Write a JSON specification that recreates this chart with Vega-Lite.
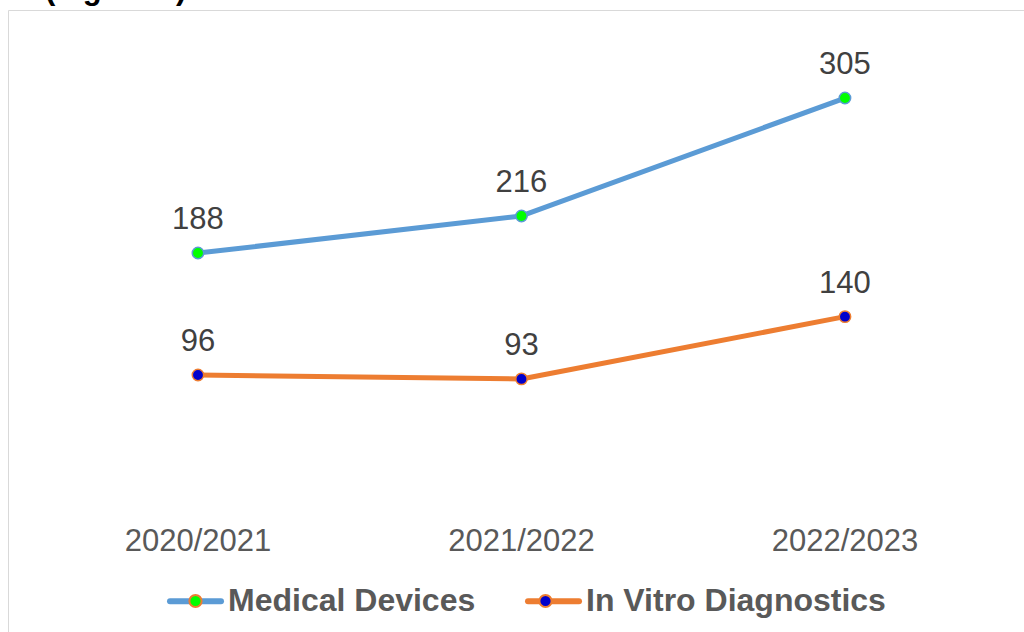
{
  "$schema": "https://vega.github.io/schema/vega-lite/v6.json",
  "autosize": {"type": "none"},
  "width": 1030,
  "height": 640,
  "padding": {"left": 8, "top": 10, "right": -14, "bottom": -18},
  "background": "white",
  "config": {"view": {"stroke": "#d9d9d9", "strokeWidth": 1}, "font": "Liberation Sans"},
  "title": {"text": "(Figure 1)", "anchor": "start", "dx": 37, "dy": 20, "fontSize": 31, "fontWeight": "bold", "color": "#000000", "baseline": "alphabetic", "offset": 0, "font": "Liberation Sans"},
  "datasets": {
    "main": [
      {"period": "2020/2021", "series": "Medical Devices", "value": 188},
      {"period": "2021/2022", "series": "Medical Devices", "value": 216},
      {"period": "2022/2023", "series": "Medical Devices", "value": 305},
      {"period": "2020/2021", "series": "In Vitro Diagnostics", "value": 96},
      {"period": "2021/2022", "series": "In Vitro Diagnostics", "value": 93},
      {"period": "2022/2023", "series": "In Vitro Diagnostics", "value": 140}
    ]
  },
  "encoding": {
    "x": {"field": "period", "type": "nominal", "scale": {"type": "point", "padding": 0.592, "align": 0.496}, "axis": null},
    "y": {"field": "value", "type": "quantitative", "scale": {"domain": [-111.6, 371.45], "nice": false, "zero": false}, "axis": null}
  },
  "layer": [
    {
      "data": {"name": "main"},
      "mark": {"type": "line", "strokeWidth": 5, "strokeCap": "round", "strokeJoin": "round"},
      "encoding": {
        "stroke": {
          "field": "series", "type": "nominal",
          "scale": {"domain": ["Medical Devices", "In Vitro Diagnostics"], "range": ["#5b9bd5", "#ed7d31"]},
          "legend": {
            "orient": "none", "legendX": 159, "legendY": 562.5, "direction": "horizontal", "title": null,
            "padding": 0, "symbolType": "stroke", "symbolSize": 2601, "symbolStrokeWidth": 6,
            "labelFont": "Liberation Sans", "labelFontSize": 32, "labelFontWeight": "bold", "labelColor": "#595959",
            "labelOffset": 4, "columnPadding": 40, "labelLimit": 500,
            "encode": {"symbols": {"update": {"strokeCap": {"value": "round"}}}}
          }
        }
      }
    },
    {
      "data": {"name": "main"},
      "mark": {"type": "point", "filled": true, "size": 130, "strokeWidth": 1.5, "opacity": 1},
      "encoding": {
        "fill": {
          "field": "series", "type": "nominal", "sort": ["Medical Devices", "In Vitro Diagnostics"],
          "scale": {"range": ["#00ff00", "#0000cc"]},
          "legend": {
            "orient": "none", "legendX": 171.5, "legendY": 575, "direction": "horizontal", "title": null,
            "padding": 0, "symbolType": "circle", "symbolSize": 150, "symbolStrokeWidth": 2, "symbolOpacity": 1,
            "labelFont": "Liberation Sans", "labelFontSize": 32, "labelFontWeight": "bold", "labelColor": "#595959",
            "labelOpacity": 0, "labelOffset": 30, "columnPadding": 40, "labelLimit": 500,
            "encode": {"symbols": {"update": {"stroke": {"signal": "datum.value === 'Medical Devices' ? '#5b9bd5' : '#ed7d31'"}}}}
          }
        },
        "stroke": {"condition": {"test": "datum.series === 'Medical Devices'", "value": "#5b9bd5"}, "value": "#ed7d31"}
      }
    },
    {
      "data": {"name": "main"},
      "mark": {"type": "text", "dy": -24, "baseline": "alphabetic", "fontSize": 31, "color": "#404040", "font": "Liberation Sans"},
      "encoding": {"text": {"field": "value", "type": "quantitative"}}
    },
    {
      "data": {"name": "main"},
      "transform": [{"filter": "datum.series === 'Medical Devices'"}],
      "mark": {"type": "text", "baseline": "alphabetic", "fontSize": 31, "color": "#595959", "font": "Liberation Sans"},
      "encoding": {
        "y": {"datum": -37, "type": "quantitative"},
        "text": {"field": "period", "type": "nominal"}
      }
    }
  ]
}
